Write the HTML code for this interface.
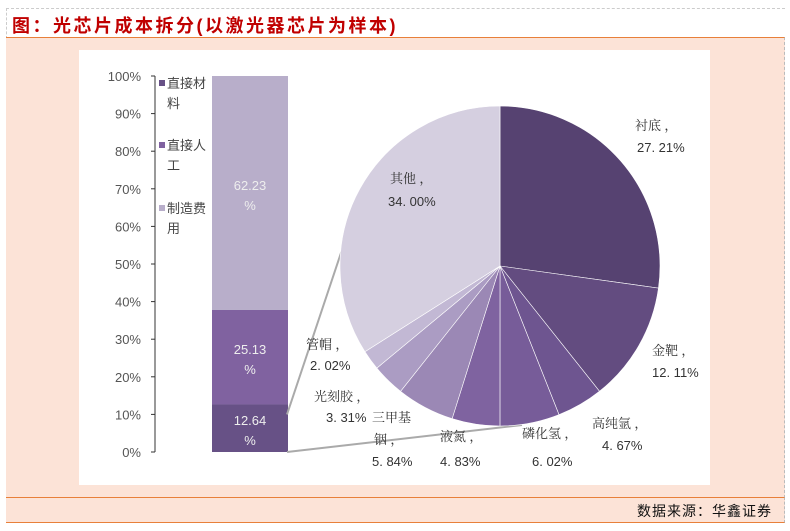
<!DOCTYPE html>
<html><head><meta charset="utf-8"><style>
body{margin:0;width:790px;height:531px;background:#fff;position:relative;overflow:hidden;font-family:"Liberation Sans","Noto Sans CJK SC",sans-serif}
#frame{position:absolute;left:6px;top:8px;width:778px;height:30px;border-top:1px dashed #ccc;border-left:1px dashed #ccc}
#title{position:absolute;left:12px;top:12px;font-size:18px;font-weight:bold;color:#c00000;letter-spacing:2.5px}
#band{position:absolute;left:6px;top:37px;width:778px;height:460px;background:#fce3d7;border-top:1.5px solid #e8803a;border-right:1px dashed #bbb}
#plot{position:absolute;left:79px;top:50px;width:631px;height:435px;background:#fff}
#foot{position:absolute;left:6px;top:497px;width:778px;height:24px;background:#fce3d7;border-top:1.5px solid #e8803a;border-bottom:1.5px solid #e8803a;border-right:1px dashed #bbb}
#src{position:absolute;right:12px;top:3px;font-size:14px;color:#111;letter-spacing:1px}
svg{position:absolute;left:0;top:0}
</style></head><body>
<div id="frame"></div>
<div id="title">图：光芯片成本拆分(以激光器芯片为样本)</div>
<div id="band"></div>
<div id="plot"></div>
<div id="foot"><span id="src">数据来源：华鑫证券</span></div>
<svg id="chart" width="790" height="531"></svg>
<script>
const barLabels=["直接材料","直接人工","制造费用"];
const barValues=[12.64,25.13,62.23];
const barColors=["#675186","#8062a0","#b8aeca"];
const yTicks=[0,10,20,30,40,50,60,70,80,90,100];
const pieLabels=["衬底","金靶","高纯氩","磷化氢","液氮","三甲基铟","光刻胶","管帽","其他"];
const pieValues=[27.21,12.11,4.67,6.02,4.83,5.84,3.31,2.02,34.00];
const pieColors=["#564271","#634c80","#6e5590","#775c99","#7f63a0","#9b88b5","#ab9cc3","#c2b8d4","#d5cfe0"];

const NS="http://www.w3.org/2000/svg";
const svg=document.getElementById('chart');
function mk(t,a,p){const e=document.createElementNS(NS,t);for(const k in a)e.setAttribute(k,a[k]);(p||svg).appendChild(e);return e;}
const y0=452,y1=76;
const yS=v=>y0-(v/100)*(y0-y1);
let ax=mk('line',{x1:155,y1:y1,x2:155,y2:y0,stroke:'#333','stroke-width':1});


yTicks.forEach(t=>{
 let l=mk('line',{x1:151,y1:yS(t),x2:155,y2:yS(t),stroke:'#333'});
 
 
 let tx=mk('text',{x:141,y:yS(t)+5,'text-anchor':'end','font-size':13,fill:'#555'});
 tx.textContent=t+'%';
 
 
});
let cum=0;
barValues.forEach((v,i)=>{
 const top=yS(cum+v),bot=yS(cum);
 let r=mk('rect',{x:212,y:top,width:76,height:bot-top,fill:barColors[i]});
 
 
 const my=(top+bot)/2;
 let t1=mk('text',{x:250,y:my-3,'text-anchor':'middle','font-size':13,fill:'#eee'});t1.textContent=v.toFixed(2);
 
 
 let t2=mk('text',{x:250,y:my+17,'text-anchor':'middle','font-size':13,fill:'#eee'});t2.textContent='%';
 
 
 cum+=v;
});
const legY=[88,150,213];
barLabels.forEach((s,i)=>{
 let r=mk('rect',{x:159,y:legY[i]-8,width:6,height:6,fill:barColors[i]});
 
 
 let a=mk('text',{x:167,y:legY[i],'font-size':13,fill:'#444'});a.textContent=s.slice(0,3);
 
 
 let b=mk('text',{x:167,y:legY[i]+20,'font-size':13,fill:'#444'});b.textContent=s.slice(3);
 
 
});
const topMat=yS(barValues[0]);
let c1=mk('line',{x1:287,y1:topMat+10,x2:362,y2:190,stroke:'#aaa','stroke-width':2});


let c2=mk('line',{x1:287,y1:y0,x2:522,y2:425,stroke:'#aaa','stroke-width':2});


const cx=500,cy=266,R=160;
const total=pieValues.reduce((a,b)=>a+b,0);
let acc=0;
const pt=a=>[cx+R*Math.sin(a),cy-R*Math.cos(a)];
pieValues.forEach((v,i)=>{
 const a0=acc/total*2*Math.PI;acc+=v;const a1=acc/total*2*Math.PI;
 const p0=pt(a0),p1=pt(a1);
 let p=mk('path',{d:`M${cx},${cy}L${p0[0]},${p0[1]}A${R},${R} 0 ${a1-a0>Math.PI?1:0} 1 ${p1[0]},${p1[1]}Z`,fill:pieColors[i],stroke:'#fff','stroke-width':0.6});
 
 
});
const lp=[[635,130,637,152],[652,355,652,377],[592,428,602,450],[522,438,532,466],[440,441,440,466],[372,422,372,466],[314,401,326,422],[306,349,310,370],[390,183,388,206]];
pieLabels.forEach((s,i)=>{
 const q=lp[i];
 let n;
 if(i===5){
  n=mk('text',{x:q[0],y:q[1],'font-size':13,fill:'#333','font-family':'"Noto Serif CJK SC",serif'});n.textContent='三甲基';
  let n2=mk('text',{x:q[0]+2,y:q[1]+22,'font-size':13,fill:'#333','font-family':'"Noto Serif CJK SC",serif'});n2.textContent='铟 ，';
  
  
 } else {
  n=mk('text',{x:q[0],y:q[1],'font-size':13,fill:'#333','font-family':'"Noto Serif CJK SC",serif'});n.textContent=s+' ，';
 }
 
 
 let vt=mk('text',{x:q[2],y:q[3],'font-size':13,fill:'#333'});vt.textContent=pieValues[i].toFixed(2).replace('.', '. ')+'%';
 
 
});
</script>
</body></html>
